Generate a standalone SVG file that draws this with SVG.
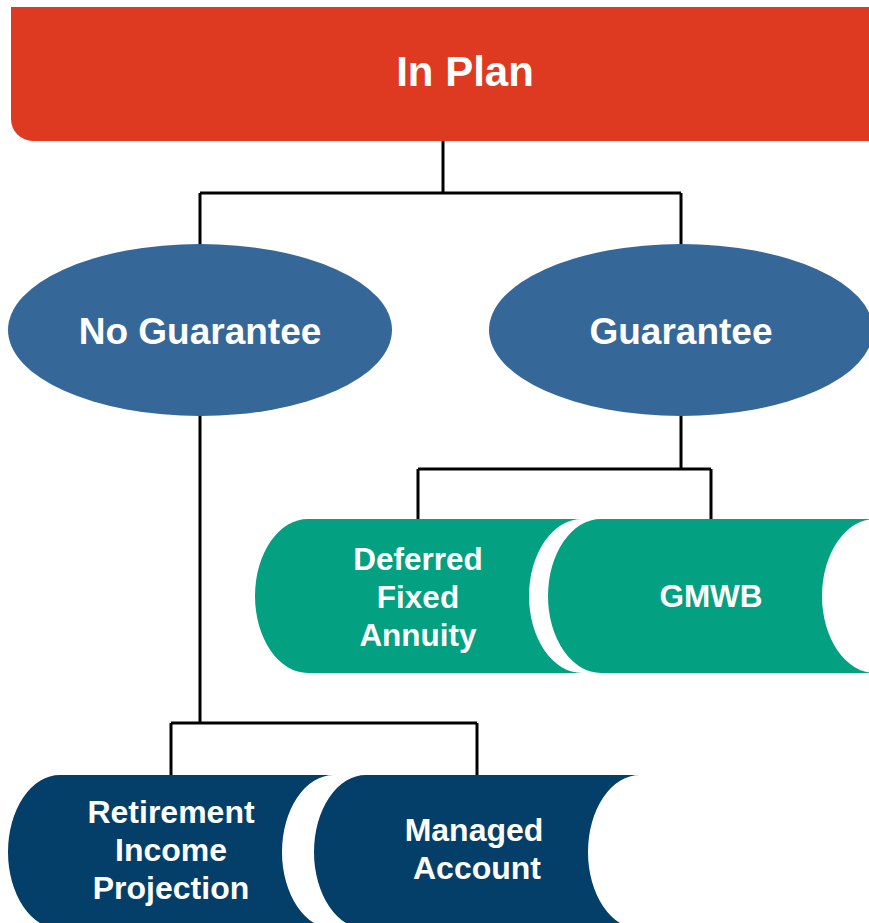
<svg xmlns="http://www.w3.org/2000/svg" width="869" height="923" viewBox="0 0 869 923">
<style>
.t{font-family:"Liberation Sans",Arial,sans-serif;font-weight:bold;fill:#fff;text-anchor:middle}
.c{fill:none;stroke:#000;stroke-width:3}
.g{fill:#04A082}
.n{fill:#033F69}
.e{fill:#356899}
</style>
<rect width="869" height="923" fill="#fff"/>
<g id="connectors">
<path class="c" d="M443 141V193M200 193H681M200 193V245M681 193V245"/>
<path class="c" d="M681 415V469M418 469H711M418 469V520M711 469V520"/>
<path class="c" d="M200 415V723M171 723H477M171 723V776M477 723V776"/>
</g>
<g id="in-plan">
<path d="M11 7H875V141H33A22 22 0 0 1 11 119Z" fill="#DE3A21"/>
<text class="t" x="465" y="86" font-size="42">In Plan</text>
</g>
<g id="no-guarantee">
<ellipse class="e" cx="200" cy="330" rx="192" ry="86"/>
<text class="t" x="200" y="344" font-size="37">No Guarantee</text>
</g>
<g id="guarantee">
<ellipse class="e" cx="681" cy="330" rx="192" ry="86"/>
<text class="t" x="681" y="344" font-size="37">Guarantee</text>
</g>
<g id="deferred-fixed-annuity">
<path class="g" d="M308 519H582A53 77 0 0 0 582 673H308A53 77 0 0 1 308 519Z"/>
<text class="t" x="418" y="570" font-size="31.5">Deferred</text>
<text class="t" x="418" y="608" font-size="31.5">Fixed</text>
<text class="t" x="418" y="646" font-size="31.5">Annuity</text>
</g>
<g id="gmwb">
<path class="g" d="M601 519H875A53 77 0 0 0 875 673H601A53 77 0 0 1 601 519Z"/>
<text class="t" x="711" y="607" font-size="31.5">GMWB</text>
</g>
<g id="retirement-income-projection">
<path class="n" d="M60 775H334A52 77 0 0 0 334 929H60A52 77 0 0 1 60 775Z"/>
<text class="t" x="171" y="823" font-size="32">Retirement</text>
<text class="t" x="171" y="861" font-size="32">Income</text>
<text class="t" x="171" y="899" font-size="32">Projection</text>
</g>
<g id="managed-account">
<path class="n" d="M366 775H640A52 77 0 0 0 640 929H366A52 77 0 0 1 366 775Z"/>
<text class="t" x="474" y="841" font-size="32">Managed</text>
<text class="t" x="477" y="879" font-size="32">Account</text>
</g>
</svg>
